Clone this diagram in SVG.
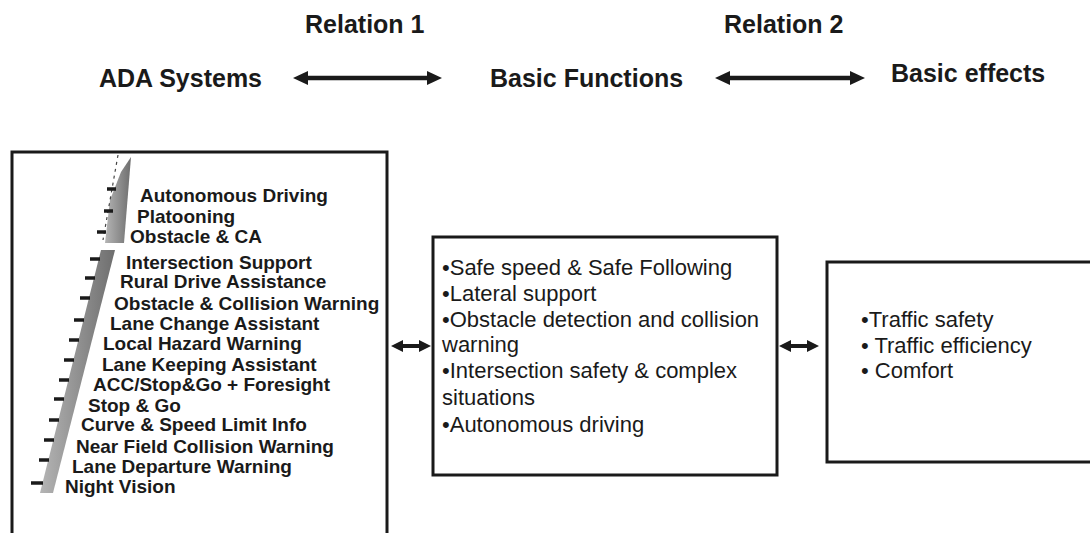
<svg xmlns="http://www.w3.org/2000/svg" width="1090" height="533" viewBox="0 0 1090 533">
  <style>
    .hd { font-family: "Liberation Sans", Arial, sans-serif; font-weight: bold; font-size: 25px; fill: #1a1a1a; }
    .lv { font-family: "Liberation Sans", Arial, sans-serif; font-weight: bold; font-size: 19px; fill: #1a1a1a; }
    .tx { font-family: "Liberation Sans", Arial, sans-serif; font-size: 22px; fill: #1a1a1a; }
    .box { fill: #ffffff; stroke: #1a1a1a; stroke-width: 3; }
    .tick { stroke: #1a1a1a; stroke-width: 3.5; }
    .big { stroke: #1a1a1a; stroke-width: 4.5; fill: none; }
    .small { stroke: #1a1a1a; stroke-width: 4; fill: none; }
  </style>
  <defs>
    <marker id="hBig" viewBox="0 0 15 14" markerWidth="15" markerHeight="14" refX="1" refY="7" markerUnits="userSpaceOnUse" orient="auto-start-reverse">
      <path d="M0,0 L15,7 L0,14 Z" fill="#1a1a1a"/>
    </marker>
    <marker id="hSmall" viewBox="0 0 12 12" markerWidth="12" markerHeight="12" refX="1" refY="6" markerUnits="userSpaceOnUse" orient="auto-start-reverse">
      <path d="M0,0 L12,6 L0,12 Z" fill="#1a1a1a"/>
    </marker>
    <linearGradient id="gband" x1="0" y1="0" x2="1" y2="0">
      <stop offset="0" stop-color="#b5b5b5"/>
      <stop offset="1" stop-color="#6e6e6e"/>
    </linearGradient>
  </defs>
  <rect width="1090" height="533" fill="#ffffff"/>

  <g id="headings">
    <text class="hd" x="305" y="33">Relation 1</text>
    <text class="hd" x="724" y="33">Relation 2</text>
    <text class="hd" x="99" y="87">ADA Systems</text>
    <text class="hd" x="490" y="87">Basic Functions</text>
    <text class="hd" x="891" y="82">Basic effects</text>
  </g>

  <g id="ada-systems">
    <rect class="box" x="12" y="152" width="375" height="400"/>
    <polygon points="101,250 115,250 53,493 40,493" fill="url(#gband)"/>
    <polygon points="131,157 124,243 105,243 110,200 121,172" fill="url(#gband)"/>
    <line x1="118" y1="155" x2="103" y2="240" stroke="#444" stroke-width="1.2" stroke-dasharray="3 4"/>
    <g id="ticks">
      <line class="tick" x1="107" y1="189" x2="116" y2="189"/>
      <line class="tick" x1="104" y1="211" x2="113" y2="211"/>
      <line class="tick" x1="97" y1="232" x2="106" y2="232"/>
      <line class="tick" x1="90" y1="259" x2="100" y2="259"/>
      <line class="tick" x1="85" y1="278" x2="95" y2="278"/>
      <line class="tick" x1="80" y1="298" x2="90" y2="298"/>
      <line class="tick" x1="74" y1="320" x2="84" y2="320"/>
      <line class="tick" x1="69" y1="340" x2="79" y2="340"/>
      <line class="tick" x1="64" y1="360" x2="74" y2="360"/>
      <line class="tick" x1="59" y1="380" x2="69" y2="380"/>
      <line class="tick" x1="54" y1="399" x2="64" y2="399"/>
      <line class="tick" x1="49" y1="420" x2="59" y2="420"/>
      <line class="tick" x1="44" y1="440" x2="54" y2="440"/>
      <line class="tick" x1="39" y1="460" x2="49" y2="460"/>
      <line class="tick" x1="31" y1="483" x2="43" y2="483"/>
    </g>
    <text class="lv" x="140" y="202">Autonomous Driving</text>
    <text class="lv" x="137" y="223">Platooning</text>
    <text class="lv" x="130" y="243">Obstacle &amp; CA</text>
    <text class="lv" x="126" y="269">Intersection Support</text>
    <text class="lv" x="120" y="288">Rural Drive Assistance</text>
    <text class="lv" x="114" y="310">Obstacle &amp; Collision Warning</text>
    <text class="lv" x="110" y="330">Lane Change Assistant</text>
    <text class="lv" x="103" y="350">Local Hazard Warning</text>
    <text class="lv" x="102" y="371">Lane Keeping Assistant</text>
    <text class="lv" x="93" y="391">ACC/Stop&amp;Go + Foresight</text>
    <text class="lv" x="88" y="412">Stop &amp; Go</text>
    <text class="lv" x="81" y="431">Curve &amp; Speed Limit Info</text>
    <text class="lv" x="76" y="453">Near Field Collision Warning</text>
    <text class="lv" x="72" y="473">Lane Departure Warning</text>
    <text class="lv" x="65" y="493">Night Vision</text>
  </g>

  <g id="basic-functions">
    <rect class="box" x="433" y="237" width="344" height="238"/>
    <text class="tx" x="442" y="275">•Safe speed &amp; Safe Following</text>
    <text class="tx" x="442" y="301">•Lateral support</text>
    <text class="tx" x="442" y="327">•Obstacle detection and collision</text>
    <text class="tx" x="442" y="352">warning</text>
    <text class="tx" x="442" y="378">•Intersection safety &amp; complex</text>
    <text class="tx" x="442" y="405">situations</text>
    <text class="tx" x="442" y="432">•Autonomous driving</text>
  </g>

  <g id="basic-effects">
    <rect class="box" x="827" y="262" width="290" height="200"/>
    <text class="tx" x="861" y="327">•Traffic safety</text>
    <text class="tx" x="861" y="353">• Traffic efficiency</text>
    <text class="tx" x="861" y="378">• Comfort</text>
  </g>

  <g id="connectors">
    <line class="big" x1="307" y1="78" x2="428" y2="78" marker-start="url(#hBig)" marker-end="url(#hBig)"/>
    <line class="big" x1="729" y1="78" x2="851" y2="78" marker-start="url(#hBig)" marker-end="url(#hBig)"/>
    <line class="small" x1="402" y1="346" x2="420" y2="346" marker-start="url(#hSmall)" marker-end="url(#hSmall)"/>
    <line class="small" x1="790" y1="346" x2="808" y2="346" marker-start="url(#hSmall)" marker-end="url(#hSmall)"/>
  </g>
</svg>
